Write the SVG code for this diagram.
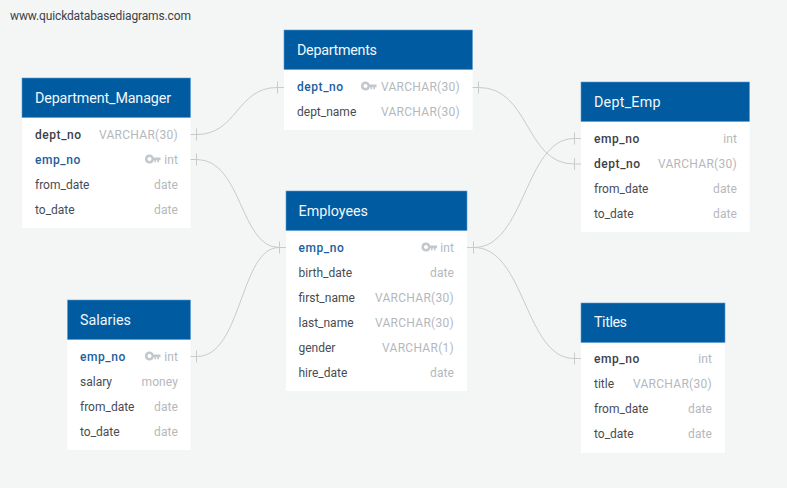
<svg xmlns="http://www.w3.org/2000/svg" width="787" height="488" viewBox="0 0 787 488">
<style>
text{font-family:Roboto,"Liberation Sans",sans-serif;font-size:12px}
.bg{fill:#fff}
.hd{fill:#005ba1;stroke:#5b9bd1;stroke-width:.6}
.t{font-size:14.300px;fill:#f2f7fb}
.f{fill:#474c54}
.b{font-weight:500;fill:#3c4148;letter-spacing:.55px}
.p{font-weight:500;fill:#1b5e9f;letter-spacing:.55px}
.d{fill:#b4b8bd;text-anchor:end;letter-spacing:.1px}
.v{letter-spacing:.28px}
.c{fill:none;stroke:#c9cbca;stroke-width:1}
.k{fill:#c3c8cd}
</style>
<defs>
<g id="key"><path class="k" fill-rule="evenodd" d="M4.500 -4.500a4.500 4.500 0 0 1 4.200 2.900H15.500V1.300H14V3.200H12.300V1.300H11V3.200H9.500V1.300H8.800A4.500 4.500 0 1 1 4.500 -4.500ZM4.500 -2a2 2 0 1 0 .01 0Z"/></g>
</defs>
<rect width="787" height="488" fill="#f4f6f6"/>
<text x="10" y="20" textLength="181" fill="#3d4246">www.quickdatabasediagrams.com</text>
<g id="connectors">
<path class="c" d="M190 134.500H197C237 134.500 237 87.500 277 87.500H284"/><path class="c" d="M196.500 128.500V140.500M277.500 81.500V93.500"/>
<path class="c" d="M190 159.500H197C242 159.500 240 247.500 279 247.500H286"/><path class="c" d="M196.500 153.500V165.500M279.500 241.500V253.500"/>
<path class="c" d="M190 356.500H197C242 356.500 240 247.500 279 247.500H286"/><path class="c" d="M196.500 350.500V362.500"/>
<path class="c" d="M472 87.500H479C530 87.500 525 164 574 164H581"/><path class="c" d="M478.500 81.500V93.500M574.500 158V170"/>
<path class="c" d="M467 247.500H474C525 247.500 525 138.500 574 138.500H581"/><path class="c" d="M473.500 241.500V253.500M574.500 132.500V144.500"/>
<path class="c" d="M467 247.500H474C525 247.500 525 358.500 574 358.500H581"/><path class="c" d="M574.500 352.500V364.500"/>
</g>
<g id="Department_Manager">
<rect class="bg" x="22" y="78" width="168.500" height="150"/><rect class="hd" x="22" y="78" width="168.500" height="39.500"/>
<text class="t" x="35" y="103" textLength="136">Department_Manager</text>
<text class="b" x="35" y="139">dept_no</text><text class="d v" x="178" y="139">VARCHAR(30)</text>
<text class="p" x="35" y="164">emp_no</text><use href="#key" x="145" y="159"/><text class="d" x="178" y="164">int</text>
<text class="f" x="35" y="189">from_date</text><text class="d" x="178" y="189">date</text>
<text class="f" x="35" y="214">to_date</text><text class="d" x="178" y="214">date</text>
</g>
<g id="Departments">
<rect class="bg" x="284" y="30" width="188.500" height="100"/><rect class="hd" x="284" y="30" width="188.500" height="39.500"/>
<text class="t" x="297" y="55" textLength="80">Departments</text>
<text class="p" x="297" y="91">dept_no</text><use href="#key" x="361" y="86"/><text class="d v" x="460" y="91">VARCHAR(30)</text>
<text class="f" x="297" y="116">dept_name</text><text class="d v" x="460" y="116">VARCHAR(30)</text>
</g>
<g id="Employees">
<rect class="bg" x="286" y="191" width="181" height="200"/><rect class="hd" x="286" y="191" width="181" height="39.500"/>
<text class="t" x="298.500" y="216" textLength="69.500">Employees</text>
<text class="p" x="298.500" y="252">emp_no</text><use href="#key" x="421.500" y="247"/><text class="d" x="454" y="252">int</text>
<text class="f" x="298.500" y="277">birth_date</text><text class="d" x="454" y="277">date</text>
<text class="f" x="298.500" y="302">first_name</text><text class="d v" x="454" y="302">VARCHAR(30)</text>
<text class="f" x="298.500" y="327">last_name</text><text class="d v" x="454" y="327">VARCHAR(30)</text>
<text class="f" x="298.500" y="352">gender</text><text class="d v" x="454" y="352">VARCHAR(1)</text>
<text class="f" x="298.500" y="377">hire_date</text><text class="d" x="454" y="377">date</text>
</g>
<g id="Dept_Emp">
<rect class="bg" x="581" y="82" width="168.500" height="150"/><rect class="hd" x="581" y="82" width="168.500" height="39.500"/>
<text class="t" x="594" y="107" textLength="66.500">Dept_Emp</text>
<text class="b" x="594" y="143">emp_no</text><text class="d" x="737" y="143">int</text>
<text class="b" x="594" y="168">dept_no</text><text class="d v" x="737" y="168">VARCHAR(30)</text>
<text class="f" x="594" y="193">from_date</text><text class="d" x="737" y="193">date</text>
<text class="f" x="594" y="218">to_date</text><text class="d" x="737" y="218">date</text>
</g>
<g id="Salaries">
<rect class="bg" x="67.500" y="300" width="123" height="150"/><rect class="hd" x="67.500" y="300" width="123" height="39.500"/>
<text class="t" x="80" y="325" textLength="51">Salaries</text>
<text class="p" x="80" y="361">emp_no</text><use href="#key" x="145" y="356"/><text class="d" x="178" y="361">int</text>
<text class="f" x="80" y="386">salary</text><text class="d" x="178" y="386">money</text>
<text class="f" x="80" y="411">from_date</text><text class="d" x="178" y="411">date</text>
<text class="f" x="80" y="436">to_date</text><text class="d" x="178" y="436">date</text>
</g>
<g id="Titles">
<rect class="bg" x="581" y="303" width="144" height="150"/><rect class="hd" x="581" y="303" width="144" height="39.500"/>
<text class="t" x="594" y="327" textLength="33">Titles</text>
<text class="b" x="594" y="363">emp_no</text><text class="d" x="712" y="363">int</text>
<text class="f" x="594" y="388">title</text><text class="d v" x="712" y="388">VARCHAR(30)</text>
<text class="f" x="594" y="413">from_date</text><text class="d" x="712" y="413">date</text>
<text class="f" x="594" y="438">to_date</text><text class="d" x="712" y="438">date</text>
</g>
</svg>
